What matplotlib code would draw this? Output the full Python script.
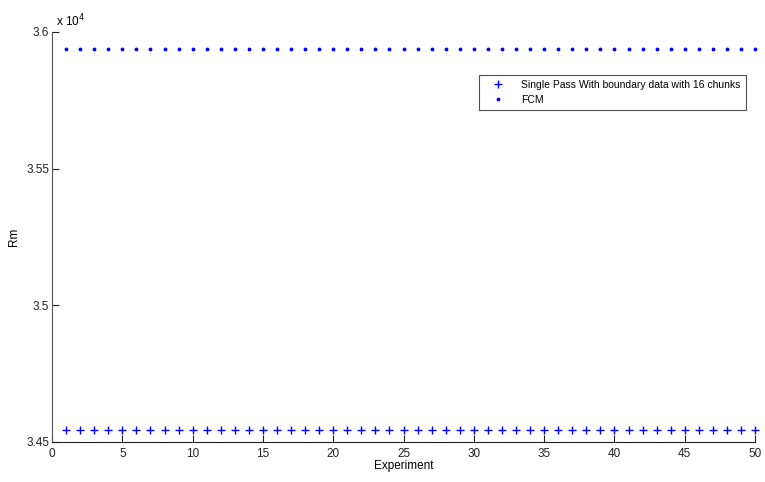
import matplotlib.pyplot as plt
from matplotlib.ticker import FuncFormatter

plt.rcParams['font.family'] = ['Liberation Sans', 'DejaVu Sans']

# numero de experimento
experimento = list(range(1, 51))

# Rm obtenido por cada metodo
rm_single_pass = [
    34545, 34545, 34545, 34545, 34545, 34545, 34545, 34545, 34545, 34545,
    34545, 34545, 34545, 34545, 34545, 34545, 34545, 34545, 34545, 34545,
    34545, 34545, 34545, 34545, 34545, 34545, 34545, 34545, 34545, 34545,
    34545, 34545, 34545, 34545, 34545, 34545, 34545, 34545, 34545, 34545,
    34545, 34545, 34545, 34545, 34545, 34545, 34545, 34545, 34545, 34545,
]
rm_fcm = [
    35938, 35938, 35938, 35938, 35938, 35938, 35938, 35938, 35938, 35938,
    35938, 35938, 35938, 35938, 35938, 35938, 35938, 35938, 35938, 35938,
    35938, 35938, 35938, 35938, 35938, 35938, 35938, 35938, 35938, 35938,
    35938, 35938, 35938, 35938, 35938, 35938, 35938, 35938, 35938, 35938,
    35938, 35938, 35938, 35938, 35938, 35938, 35938, 35938, 35938, 35938,
]

fig = plt.figure(figsize=(7.65, 4.82), dpi=100)
ax = fig.add_axes([0.068, 0.083, 0.919, 0.851])

ax.plot(experimento, rm_single_pass, '+', color='#0000ff', markersize=6, markeredgewidth=1.0,
        label='Single Pass With boundary data with 16 chunks', clip_on=False)
ax.plot(experimento, rm_fcm, '.', color='#0000ff', markersize=3.5,
        label='FCM', clip_on=False)

ax.set_xlim(0, 50)
ax.set_ylim(34500, 36000)
ax.set_xticks(range(0, 51, 5))
ax.set_yticks([34500, 35000, 35500, 36000])
ax.yaxis.set_major_formatter(FuncFormatter(lambda v, p: '%g' % (v / 1e4)))

for lado in ['top', 'right']:
    ax.spines[lado].set_visible(False)
ax.spines['left'].set_color('#555555')
ax.spines['bottom'].set_color('#222222')
ax.tick_params(direction='in', length=5, labelsize=8.5, colors='#222222', pad=2)
ax.tick_params(axis='x', pad=4)

ax.set_xlabel('Experiment', fontsize=8.5, labelpad=0)
ax.set_ylabel('Rm', fontsize=8.5)
ax.yaxis.set_label_coords(-0.045, 0.5)
ax.text(0.005, 1.005, r'x 10$^4$', transform=ax.transAxes, fontsize=8.5, va='bottom', ha='left')

leg = ax.legend(loc='upper right', bbox_to_anchor=(0.987, 0.895), fontsize=7.5, frameon=True,
                fancybox=False, edgecolor='#222222', borderpad=0.5, handlelength=2.8,
                labelspacing=0.45, borderaxespad=0)
leg.get_frame().set_linewidth(0.8)

fig.savefig('out.png', dpi=100)
